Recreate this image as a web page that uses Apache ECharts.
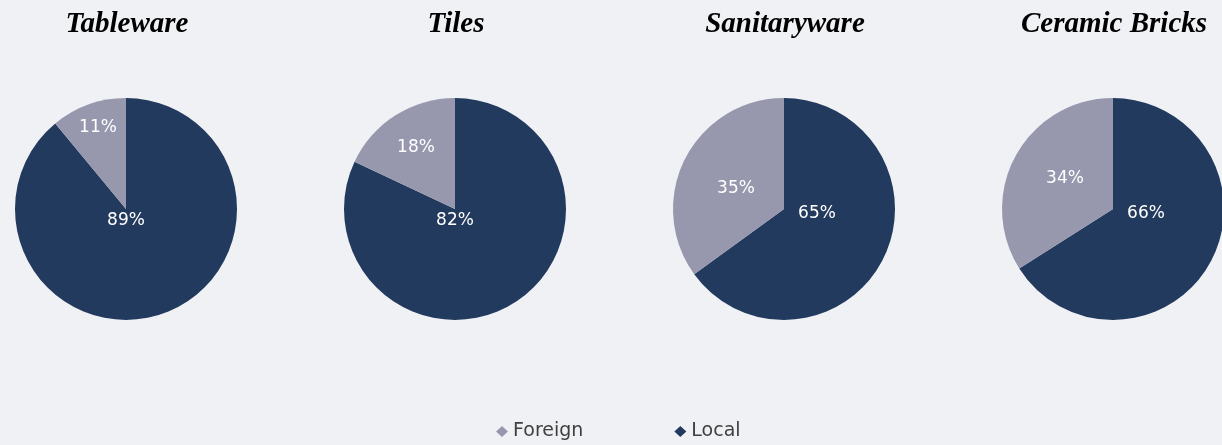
<!DOCTYPE html>
<html>
<head>
<meta charset="utf-8">
<script src="https://cdn.jsdelivr.net/npm/echarts@6/dist/echarts.min.js"></script>
<style>
html,body{margin:0;padding:0;background:#F0F1F5;}
#chart{width:1222px;height:445px;}
</style>
</head>
<body>
<div id="chart"></div>
<script>
// ---- data ----
const categories = ['Tableware', 'Tiles', 'Sanitaryware', 'Ceramic Bricks'];
const seriesNames = ['Foreign', 'Local'];
const foreignValues = [11, 18, 35, 34];
const localValues = [89, 82, 65, 66];

// ---- layout / style ----
const colors = { Foreign: '#9798AE', Local: '#223A5E' };
const centersX = [126, 455, 784, 1113];
const centerY = 209;
const radius = 111;
// label offsets from pie centre: [local, foreign]
const labelOffsets = [
  [[0, 12], [-28, -81]],
  [[0, 12], [-39, -61]],
  [[33, 5], [-48, -20]],
  [[33, 5], [-48, -30]]
];

const chart = echarts.init(document.getElementById('chart'), null, { renderer: 'canvas' });

const titles = categories.map((c, i) => ({
  text: c,
  left: centersX[i] - 4,
  top: 5,
  textAlign: 'center',
  textStyle: {
    fontFamily: '"Liberation Serif", "Times New Roman", serif',
    fontStyle: 'italic',
    fontWeight: 'bold',
    fontSize: 29,
    color: '#000'
  }
}));

const series = categories.map((c, i) => ({
  name: c,
  type: 'pie',
  center: [centersX[i], centerY],
  radius: radius,
  startAngle: 90,
  clockwise: true,
  silent: true,
  animation: false,
  label: {
    show: true,
    position: 'inside',
    formatter: '{c}%',
    color: '#ffffff',
    fontSize: 17,
    fontFamily: '"DejaVu Sans", sans-serif'
  },
  labelLine: { show: false },
  itemStyle: { borderWidth: 0 },
  emphasis: { disabled: true },
  data: [
    { name: 'Local', value: localValues[i], itemStyle: { color: colors.Local } },
    { name: 'Foreign', value: foreignValues[i], itemStyle: { color: colors.Foreign } }
  ],
  labelLayout: function (p) {
    const off = labelOffsets[i][p.dataIndex];
    return {
      x: centersX[i] + off[0],
      y: centerY + off[1],
      align: 'center',
      verticalAlign: 'middle'
    };
  }
}));

chart.setOption({
  backgroundColor: '#F0F1F5',
  title: titles,
  legend: {
    data: seriesNames.map(n => ({ name: n, itemStyle: { color: colors[n] } })),
    left: 491,
    top: 417,
    icon: 'diamond',
    itemWidth: 12,
    itemHeight: 11,
    itemGap: 91,
    textStyle: {
      fontSize: 19,
      color: '#404040',
      fontFamily: '"DejaVu Sans", sans-serif'
    },
    selectedMode: false
  },
  series: series
});
</script>
</body>
</html>
